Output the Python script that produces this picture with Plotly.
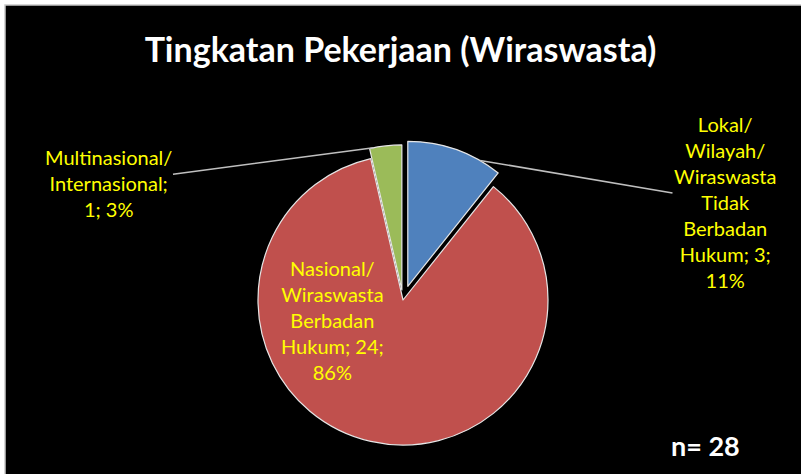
import math
import textwrap
import plotly.graph_objects as go

# ---- data ----
categories = [
    "Lokal/ Wilayah/ Wiraswasta Tidak Berbadan Hukum",
    "Nasional/ Wiraswasta Berbadan Hukum",
    "Multinasional/ Internasional",
]
counts = [3, 24, 1]
percent_labels = ["11%", "86%", "3%"]
colors = ["#4F81BD", "#C0504D", "#9BBB59"]
title_text = "Tingkatan Pekerjaan (Wiraswasta)"
n_text = "n= 28"

W, H = 801, 474
FONT = "Lato, 'Open Sans', sans-serif"
YELLOW = "#FFFF00"

# pie geometry (layout)
cx, cy = 403, 300
pulls = [0.10, 0.0, 0.07]
r = 145
D = 2 * r * (1 + max(pulls))
dom_x = [(cx - D / 2) / W, (cx + D / 2) / W]
dom_y = [1 - (cy + D / 2) / H, 1 - (cy - D / 2) / H]


def wrap(s):
    return "<br>".join(textwrap.wrap(s, width=12, break_long_words=False))


texts = [wrap(f"{c}; {v}; {p}") for c, v, p in zip(categories, counts, percent_labels)]

fig = go.Figure()
fig.add_trace(go.Pie(
    labels=categories,
    values=counts,
    sort=False,
    direction="clockwise",
    rotation=0,
    pull=pulls,
    marker=dict(colors=colors, line=dict(color="#E6E6E6", width=1.2)),
    textinfo="none",
    domain=dict(x=dom_x, y=dom_y),
    showlegend=False,
    hoverinfo="label+value+percent",
))

# data-label annotations; leader tips computed from the data
total = sum(counts)
tip_frac = [0.75, 0.5, 0.15]
start = 0.0
tips = []
for v, p, f in zip(counts, pulls, tip_frac):
    ang = math.radians(start + v / total * 360.0 * f)
    rr = r * (1 + p)
    tips.append((cx + rr * math.sin(ang), cy - rr * math.cos(ang)))
    start += v / total * 360.0

label_pos = {0: (725, 202), 1: (332, 320), 2: (108, 183)}
for i, (tx, ty) in label_pos.items():
    if i == 1:
        fig.add_annotation(
            x=tx / W, y=1 - ty / H, xref="paper", yref="paper",
            xanchor="center", yanchor="middle",
            text=texts[i], showarrow=False, align="center",
            font=dict(family=FONT, size=20, color=YELLOW),
        )
        continue
    px, py = tips[i]
    fig.add_annotation(
        x=px / W, y=1 - py / H, xref="paper", yref="paper",
        ax=tx - px, ay=ty - py, axref="pixel", ayref="pixel",
        xanchor="center", yanchor="middle",
        text=texts[i], showarrow=True, arrowhead=0, arrowwidth=1.5,
        arrowcolor="#BFBFBF", align="center",
        font=dict(family=FONT, size=20, color=YELLOW),
    )

fig.add_annotation(
    x=705 / W, y=1 - 445 / H, xref="paper", yref="paper",
    xanchor="center", yanchor="middle",
    text=f"<b>{n_text}</b>", showarrow=False,
    font=dict(family=FONT, size=27, color="white"),
)

fig.add_shape(type="rect", xref="paper", yref="paper",
              x0=5 / W, y0=-0.01, x1=1.01, y1=1 - 5 / H,
              fillcolor="black", line=dict(color="#C8C8C8", width=1.5),
              layer="below")

fig.update_layout(
    width=W, height=H,
    margin=dict(l=0, r=0, t=0, b=0),
    paper_bgcolor="white",
    plot_bgcolor="black",
    title=dict(text=f"<b>{title_text}</b>", x=0.5, xanchor="center",
               y=1 - 50 / H, yanchor="middle",
               font=dict(family=FONT, size=34, color="white")),
)

fig.write_html(
    "out.html",
    config={"displayModeBar": False},
    post_script="document.body.style.margin='0';document.body.style.overflow='hidden';",
)
